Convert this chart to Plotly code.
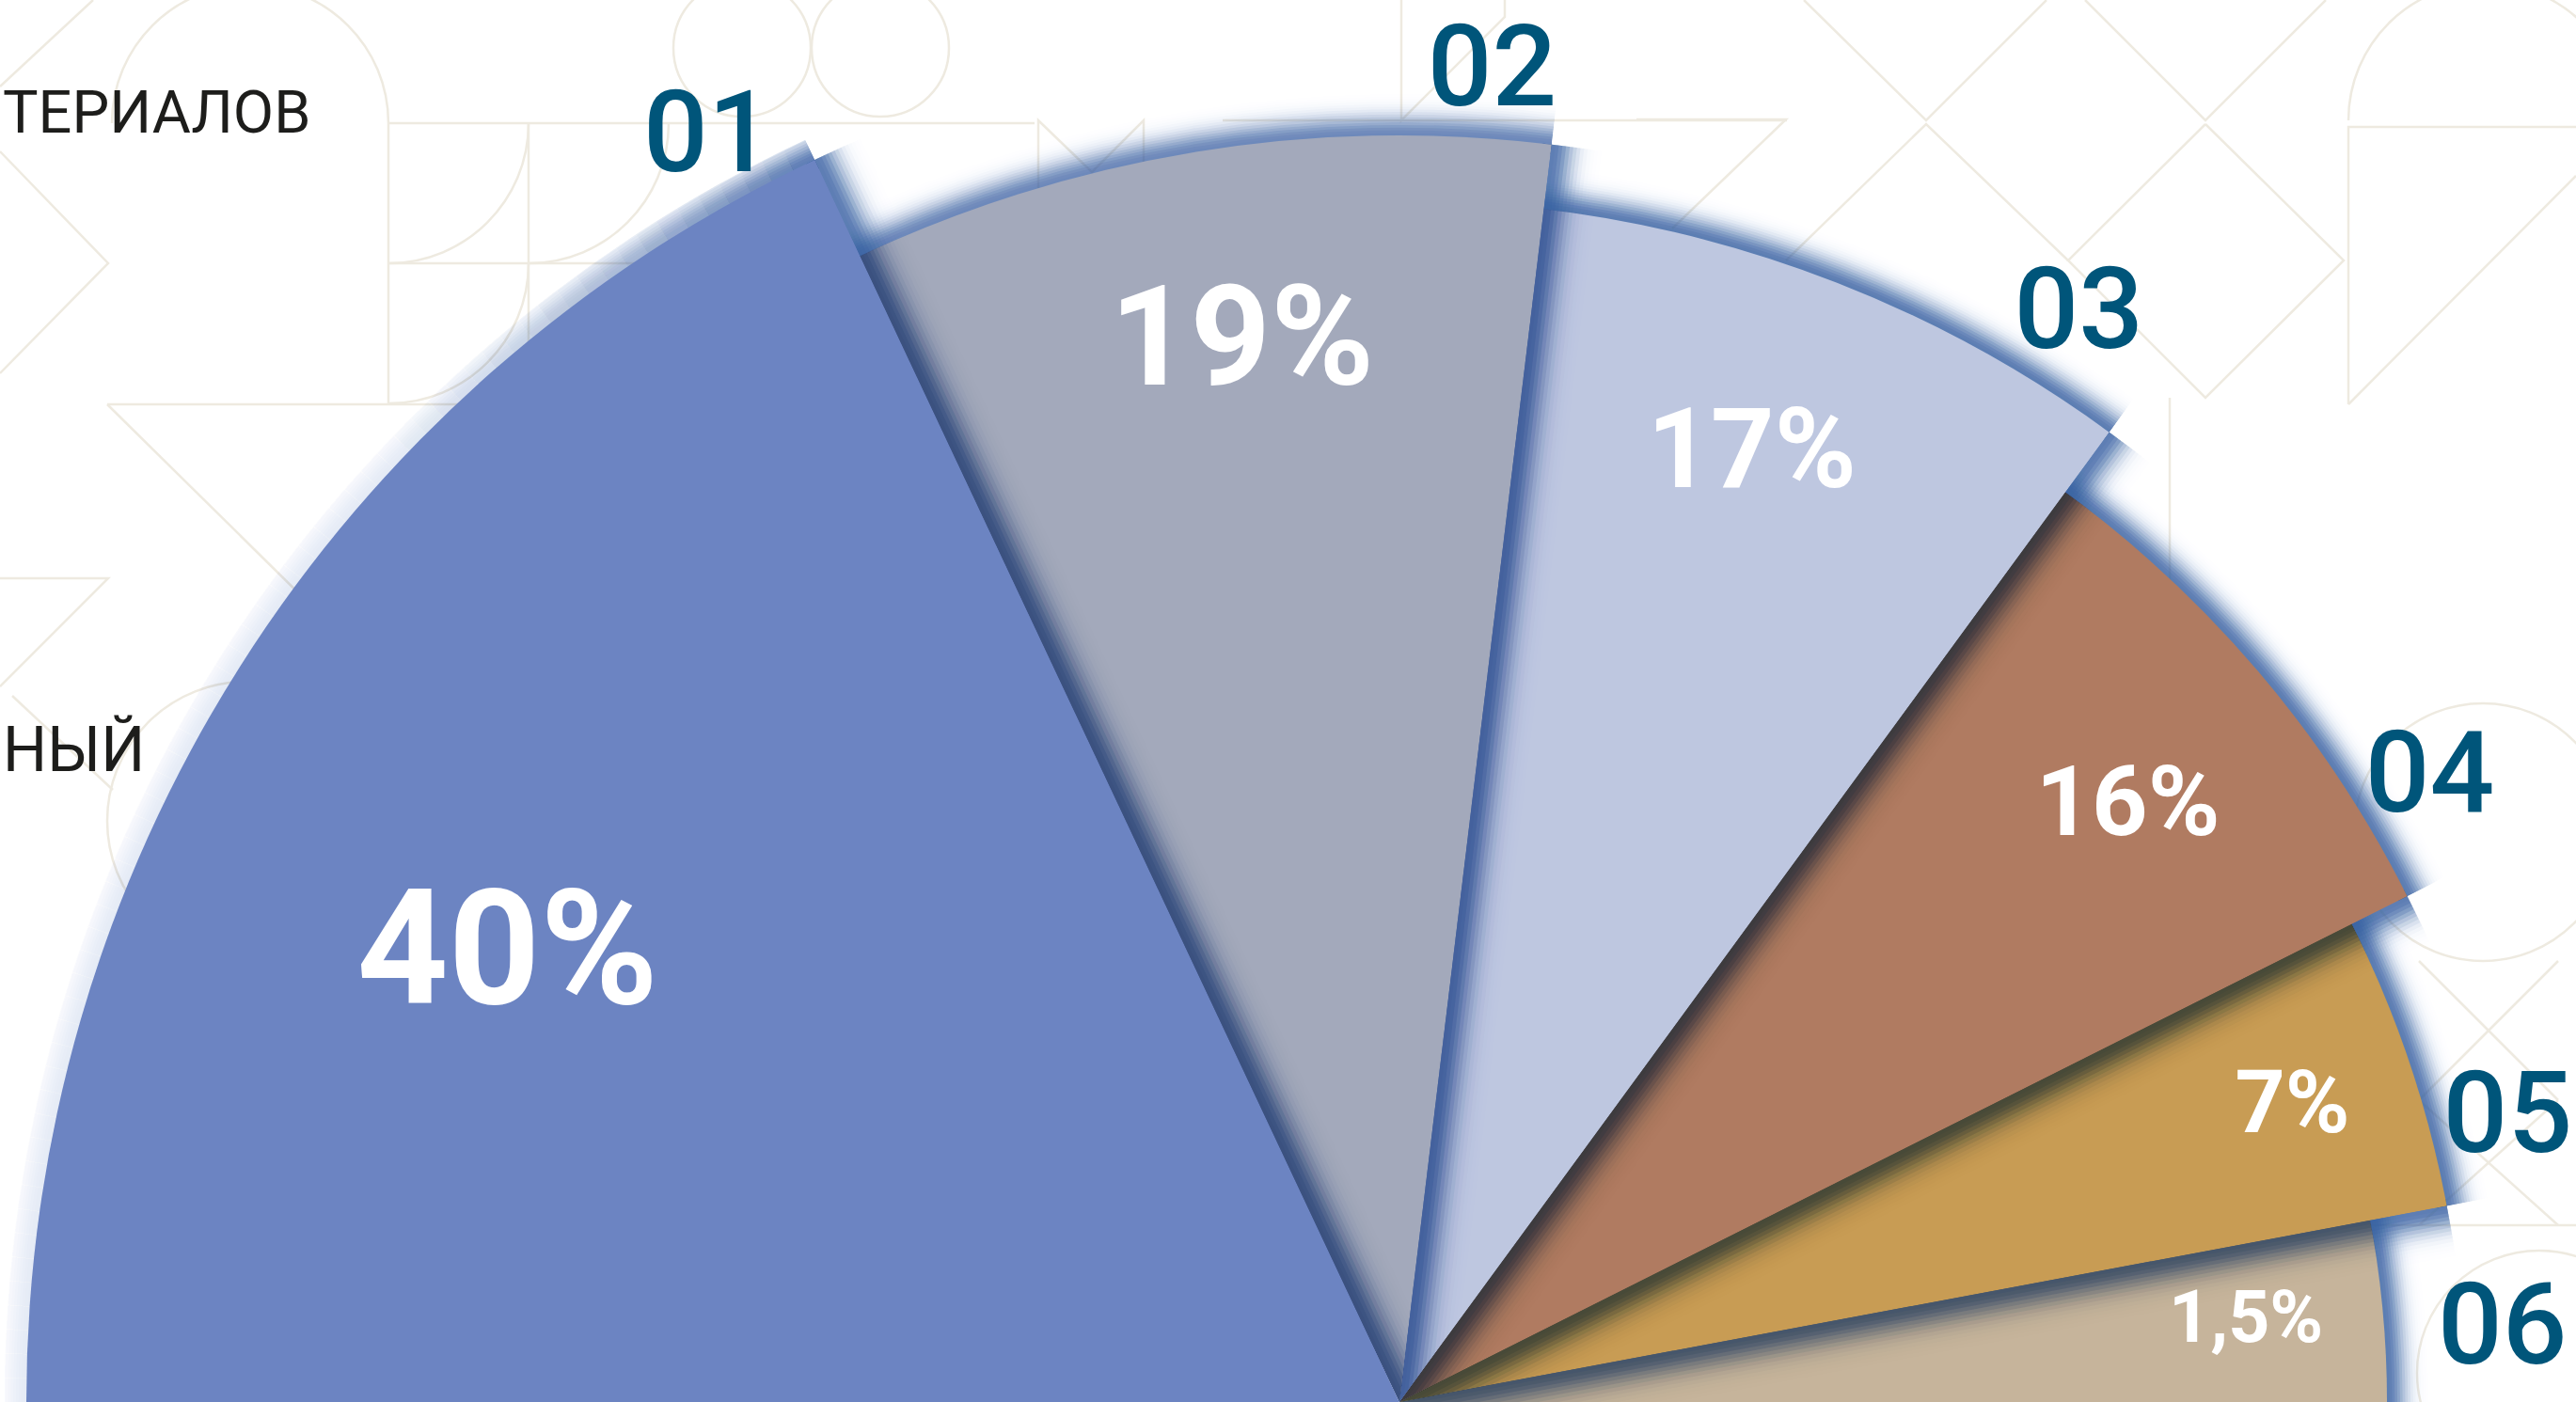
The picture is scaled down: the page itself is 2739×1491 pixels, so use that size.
import numpy as np
import plotly.graph_objects as go

# ---------------- data ----------------
codes = ["01", "02", "03", "04", "05", "06"]
shares = ["40%", "19%", "17%", "16%", "7%", "1,5%"]
slice_from = [115.2, 83.1, 53.8, 26.65, 10.6, 0.0]      # degrees
slice_to = [180.0, 115.2, 83.1, 53.8, 26.65, 10.6]      # degrees
slice_length = [100.0, 92.26, 87.53, 82.12, 77.6, 71.92]  # radial length
slice_colors = ["#6C84C2", "#A3A9BB", "#BEC7E0", "#B07B61", "#C89C54", "#C6B49B"]

# label placement (radius in px from the centre, angle in degrees)
share_r = [1057, 1132, 1070, 998, 999, 904]
share_theta = [153.8, 98.5, 69.5, 39.1, 18.1, 5.3]
share_size = [170, 149, 118, 104, 93, 77]
code_r = [1475, 1413, 1359, 1278, 1215, 1175]
code_theta = [119.9, 86.0, 57.9, 31.0, 14.1, 3.5]
code_pos = ["top center"] + ["middle center"] * 5

# ---------------- geometry / style ----------------
W, H = 2739, 1491
CX, CY = 1488.0, 1491.0
PX = 14.6            # pixels per radial unit
UNDERLAP = 0.4       # degrees each slice slides under its neighbour
SHADOW = (60, 100, 165)
CODE_COLOR = "#00557A"
N_GLOW, GLOW_A, GLOW_SIG, GLOW_L = 18, 0.80, 19.0, 50.0
N_EDGE, EDGE_A, EDGE_SIG, EDGE_L = 16, 0.80, 22.0, 62.0


def hex_rgb(h):
    h = h.lstrip("#")
    return tuple(int(h[i:i + 2], 16) for i in (0, 2, 4))


def multiply(c, s):
    return tuple(int(round(a * b / 255.0)) for a, b in zip(c, s))


def rgba(c, a):
    return "rgba({},{},{},{:.4f})".format(c[0], c[1], c[2], max(0.0, a))


def profile(A, sig, L, n, strength=1.0):
    """stack of n layers (extent d_j) whose combined opacity follows a soft fall-off"""
    d = [L * j / n for j in range(1, n + 1)]
    T = [strength * A * np.exp(-((L * (j - 1) / n) / sig) ** 2) for j in range(1, n + 1)] + [0.0]
    al = [1 - (1 - T[j]) / (1 - T[j + 1]) for j in range(n)]
    return d, al


def sector_bbox(s0, s1):
    a0, a1 = np.radians(s0), np.radians(s1)
    xs = [np.cos(a0), np.cos(a1), 0.0]
    ys = [np.sin(a0), np.sin(a1), 0.0]
    if s0 <= 90 <= s1:
        ys.append(1.0)
    if s0 <= 180 <= s1:
        xs.append(-1.0)
    return min(xs), max(min(ys), 0.0), max(xs), max(ys)


fig = go.Figure()
polars = {}


def add_glow(sp, R, seg_from, seg_to, seg_strength):
    """soft halo outside the outer arc; one trace per layer, one bar per angular segment"""
    inset = 10.0
    d, _ = profile(GLOW_A, GLOW_SIG, GLOW_L, N_GLOW)
    per_seg = [profile(GLOW_A, GLOW_SIG, GLOW_L, N_GLOW, s)[1] for s in seg_strength]
    th = [(a + b) / 2 for a, b in zip(seg_from, seg_to)]
    wd = [b - a for a, b in zip(seg_from, seg_to)]
    for j in range(N_GLOW):
        fig.add_trace(go.Barpolar(
            r=[(inset + d[j]) / PX] * len(th), base=[R - inset / PX] * len(th),
            theta=th, width=wd,
            marker=dict(color=[rgba(SHADOW, al[j]) for al in per_seg], line=dict(width=0)),
            subplot=sp, hoverinfo="skip", showlegend=False))


def add_edge(sp, theta, r0, r1, col):
    d, al = profile(EDGE_A, EDGE_SIG, EDGE_L, N_EDGE)
    for j in range(N_EDGE):
        fig.add_trace(go.Scatterpolar(
            r=[r0, r1], theta=[theta, theta], mode="lines",
            line=dict(color=rgba(col, al[j]), width=2 * d[j]),
            subplot=sp, hoverinfo="skip", showlegend=False))


# draw from the last slice (bottom layer) to the first (top layer)
order = list(range(len(codes)))[::-1]
for n, i in enumerate(order):
    sp = "polar" if n == 0 else "polar{}".format(n + 1)
    t0 = slice_from[i]
    t1 = slice_to[i] + (UNDERLAP if i > 0 else 0.0)
    R = slice_length[i]
    col = hex_rgb(slice_colors[i])

    bx0, by0, bx1, by1 = sector_bbox(t0, t1)
    lims = []
    if bx0 < -1e-9:
        lims.append(CX / -bx0)
    if bx1 > 1e-9:
        lims.append((W - CX) / bx1)
    if by1 > 1e-9:
        lims.append(CY / by1)
    rf = 0.997 * min(lims)
    dom_x = [max(0.0, (CX + rf * bx0) / W), min(1.0, (CX + rf * bx1) / W)]
    dom_y = [max(0.0, (H - CY + rf * by0) / H), min(1.0, (H - CY + rf * by1) / H)]
    polars[sp] = dict(
        domain=dict(x=dom_x, y=dom_y), sector=[t0, t1], hole=0,
        bgcolor="rgba(0,0,0,0)", barmode="overlay", bargap=0,
        radialaxis=dict(visible=False, range=[0, rf / PX]),
        angularaxis=dict(visible=False, rotation=0, direction="counterclockwise"))

    # soft halo around the outer arc (strongest on the up/right facing side)
    if i == 0:
        edges = np.linspace(t0, t1, 66)
        sf, st = list(edges[:-1]), list(edges[1:])
        strength = [0.16 + 0.84 * max(0.0, 1 - ((a + b) / 2 - t0) / 22.0) ** 1.6
                    for a, b in zip(sf, st)]
        add_glow(sp, R, sf, st, strength)
    else:
        add_glow(sp, R, [t0], [t1], [0.9 if i == 1 else 1.0])

    # the slice itself
    fig.add_trace(go.Barpolar(
        r=[R], theta=[(t0 + t1) / 2], width=[t1 - t0],
        marker=dict(color=slice_colors[i], line=dict(width=0)),
        subplot=sp, hoverinfo="skip", showlegend=False))

    # shadow cast by the previous (upper) slice along the shared edge
    if i > 0:
        edge = slice_to[i]
        add_edge(sp, edge, 0, R, multiply(col, SHADOW))
        add_edge(sp, edge, R, slice_length[i - 1], SHADOW)

    # labels
    fig.add_trace(go.Scatterpolar(
        r=[share_r[i] / PX], theta=[share_theta[i]], mode="text", text=[shares[i]],
        textposition="middle center",
        textfont=dict(family="Roboto", size=share_size[i], color="white", weight=700),
        cliponaxis=False, subplot=sp, hoverinfo="skip", showlegend=False))
    fig.add_trace(go.Scatterpolar(
        r=[code_r[i] / PX], theta=[code_theta[i]], mode="text", text=[codes[i]],
        textposition=code_pos[i],
        textfont=dict(family="Roboto", size=121, color=CODE_COLOR, weight=500),
        cliponaxis=False, subplot=sp, hoverinfo="skip", showlegend=False))

# ---------------- faint background pattern ----------------
DECO = dict(color="rgb(238,234,224)", width=2.5)


def pp(x, y):
    return x / W, 1 - y / H


def poly(*pts):
    d = "M{:.5f},{:.5f}".format(*pp(*pts[0]))
    for p in pts[1:]:
        d += " L{:.5f},{:.5f}".format(*pp(*p))
    return dict(type="path", xref="paper", yref="paper", path=d, line=DECO, layer="below")


def circ(cx, cy, r):
    return dict(type="circle", xref="paper", yref="paper",
                x0=(cx - r) / W, x1=(cx + r) / W, y0=1 - (cy + r) / H, y1=1 - (cy - r) / H,
                line=DECO, layer="below")


def arc(cx, cy, r, a0, a1):
    n = int(np.ceil(abs(a1 - a0) / 90.0))
    angs = np.radians(np.linspace(a0, a1, n + 1))

    def scr(p):
        return pp(cx + r * p[0], cy - r * p[1])

    d = "M{:.5f},{:.5f}".format(*scr((np.cos(angs[0]), np.sin(angs[0]))))
    for j in range(n):
        a, b = angs[j], angs[j + 1]
        k = 4.0 / 3.0 * np.tan((b - a) / 4.0)
        p0 = np.array([np.cos(a), np.sin(a)])
        p3 = np.array([np.cos(b), np.sin(b)])
        p1 = p0 + k * np.array([-np.sin(a), np.cos(a)])
        p2 = p3 - k * np.array([-np.sin(b), np.cos(b)])
        d += " C{:.5f},{:.5f} {:.5f},{:.5f} {:.5f},{:.5f}".format(*scr(p1), *scr(p2), *scr(p3))
    return dict(type="path", xref="paper", yref="paper", path=d, line=DECO, layer="below")


shapes = [
    poly((99, 0), (0, 92)),
    poly((0, 161), (115, 280), (0, 397)),
    poly((0, 615), (115, 615), (0, 730)),
    poly((114, 430), (760, 430)),
    poly((114, 430), (560, 870)),
    poly((413, 131), (413, 430)),
    poly((413, 131), (1100, 131)),
    poly((413, 280), (860, 280)),
    poly((562, 131), (562, 430)),
    arc(413, 131, 149, 0, -90),
    arc(562, 131, 149, 0, -90),
    arc(413, 280, 149, 0, -90),
    arc(266, 131, 147, 180, 0),
    circ(789, 51, 73),
    circ(936, 51, 73),
    poly((1104, 200), (1104, 128), (1161, 183), (1216, 128), (1216, 200)),
    poly((1300, 128), (1900, 128)),
    poly((1490, 0), (1490, 128), (1600, 18), (1600, 0)),
    poly((1918, 0), (2048, 128), (2176, 0)),
    poly((2217, 0), (2345, 128), (2473, 0)),
    poly((2345, 132), (2492, 277), (2345, 423), (2199, 277), (2345, 132)),
    poly((1899, 277), (2048, 132), (2199, 277)),
    poly((1740, 127), (1899, 127), (1778, 243)),
    poly((2497, 430), (2497, 135), (2739, 135)),
    poly((2739, 187), (2497, 430)),
    arc(2643, 128, 146, 180, 0),
    poly((2307, 423), (2307, 700)),
    circ(2640, 885, 137),
    poly((2572, 1022), (2720, 1170)),
    poly((2720, 1022), (2572, 1170)),
    poly((2572, 1170), (2720, 1303)),
    poly((2720, 1170), (2572, 1303)),
    poly((2520, 1303), (2739, 1303)),
    circ(2700, 1460, 130),
    poly((13, 740), (120, 840)),
    circ(262, 873, 148),
]

annotations = [
    dict(text="ТЕРИАЛОВ", xref="paper", yref="paper", x=1 / W, y=1 - 120 / H,
         xanchor="left", yanchor="middle", showarrow=False,
         font=dict(family="Roboto", size=63, color="#1D1D1B")),
    dict(text="НЫЙ", xref="paper", yref="paper", x=1 / W, y=1 - 798 / H,
         xanchor="left", yanchor="middle", showarrow=False,
         font=dict(family="Roboto", size=66, color="#1D1D1B")),
]

fig.update_layout(
    template="none",
    width=W, height=H, autosize=False,
    margin=dict(l=0, r=0, t=0, b=0, pad=0),
    paper_bgcolor="white", plot_bgcolor="white",
    showlegend=False, hovermode=False,
    shapes=shapes, annotations=annotations,
    **polars,
)

fig.write_html("out.html")
